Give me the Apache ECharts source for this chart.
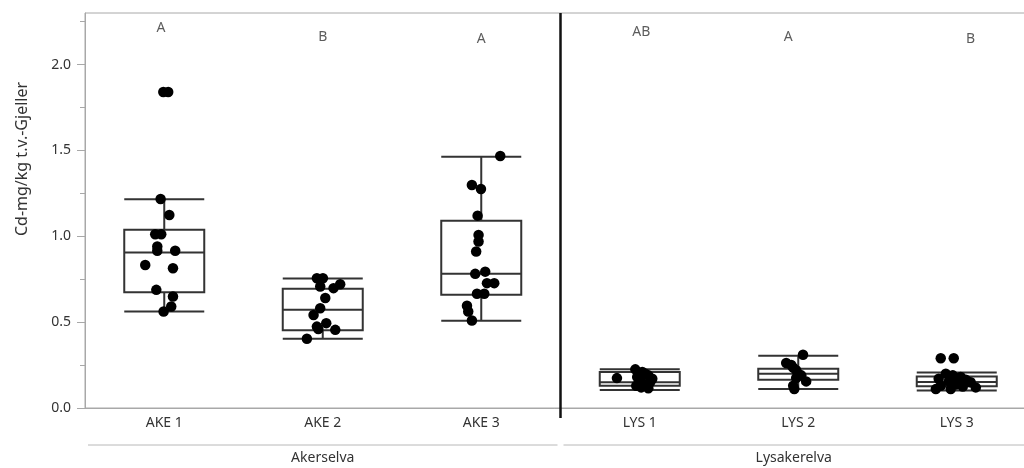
<!DOCTYPE html>
<html>
<head>
<meta charset="utf-8">
<script src="https://cdn.jsdelivr.net/npm/echarts@6/dist/echarts.min.js"></script>
<style>
html,body{margin:0;padding:0;background:#fff;}
#chart{width:1024px;height:468px;}
</style>
</head>
<body>
<div id="chart"></div>
<script>
// ---- data ----
const categories = ['AKE 1', 'AKE 2', 'AKE 3', 'LYS 1', 'LYS 2', 'LYS 3'];
const groups = ['Akerselva', 'Lysakerelva'];
const groupSpans = [[0, 2], [3, 5]];
const yAxisName = 'Cd-mg/kg t.v.-Gjeller';
const yTicks = [0, 0.5, 1.0, 1.5, 2.0];
const yMinorTicks = [0.25, 0.75, 1.25, 1.75, 2.25];

// [lower whisker, Q1, median, Q3, upper whisker]
const boxAKE1 = [0.562, 0.674, 0.905, 1.038, 1.215];
const boxAKE2 = [0.403, 0.453, 0.572, 0.694, 0.754];
const boxAKE3 = [0.508, 0.659, 0.781, 1.091, 1.463];
const boxLYS1 = [0.105, 0.130, 0.150, 0.210, 0.225];
const boxLYS2 = [0.110, 0.165, 0.200, 0.228, 0.304];
const boxLYS3 = [0.102, 0.126, 0.151, 0.184, 0.207];

// individual measurements and their horizontal jitter (fraction of category width)
const valAKE1 = [1.84, 1.84, 1.217, 1.124, 1.012, 1.012, 0.94, 0.916, 0.916, 0.833, 0.814, 0.688, 0.649, 0.591, 0.562];
const jitAKE1 = [-0.006, 0.025, -0.023, 0.032, -0.057, -0.019, -0.044, -0.044, 0.069, -0.12, 0.055, -0.05, 0.055, 0.044, -0.004];
const valAKE2 = [0.756, 0.756, 0.721, 0.707, 0.698, 0.64, 0.581, 0.542, 0.494, 0.474, 0.455, 0.46, 0.403];
const jitAKE2 = [-0.037, 0.001, 0.11, -0.016, 0.068, 0.016, -0.016, -0.058, 0.022, -0.037, 0.079, -0.028, -0.1];
const valAKE3 = [1.467, 1.298, 1.275, 1.12, 1.008, 0.969, 0.911, 0.781, 0.794, 0.727, 0.727, 0.665, 0.665, 0.595, 0.562, 0.509];
const jitAKE3 = [0.12, -0.059, -0.002, -0.023, -0.017, -0.017, -0.032, -0.038, 0.025, 0.036, 0.082, -0.027, 0.019, -0.09, -0.082, -0.059];
const valLYS1 = [0.174, 0.225, 0.21, 0.2, 0.19, 0.18, 0.17, 0.16, 0.15, 0.14, 0.13, 0.12, 0.115];
const jitLYS1 = [-0.144, -0.028, 0.016, 0.035, 0.054, -0.016, 0.079, 0.003, 0.066, 0.028, -0.022, 0.009, 0.054];
const valLYS2 = [0.31, 0.262, 0.25, 0.235, 0.22, 0.2, 0.19, 0.175, 0.155, 0.13, 0.11];
const jitLYS2 = [0.03, -0.076, -0.044, -0.032, -0.013, 0, 0.019, -0.013, 0.05, -0.032, -0.025];
const valLYS3 = [0.29, 0.29, 0.2, 0.19, 0.18, 0.17, 0.165, 0.155, 0.15, 0.14, 0.13, 0.125, 0.12, 0.11, 0.11];
const jitLYS3 = [-0.101, -0.019, -0.069, -0.025, 0.025, -0.114, 0.057, -0.05, 0.088, -0.006, -0.101, 0.038, 0.12, -0.038, -0.132];

// significance letters
const letters = ['A', 'B', 'A', 'AB', 'A', 'B'];
const letterY = [2.21, 2.16, 2.15, 2.19, 2.16, 2.15];
const letterShift = [-0.02, 0, 0, 0.01, -0.063, 0.087];

// ---- build ----
const boxData = [boxAKE1, boxAKE2, boxAKE3, boxLYS1, boxLYS2, boxLYS3];
const vals = [valAKE1, valAKE2, valAKE3, valLYS1, valLYS2, valLYS3];
const jits = [jitAKE1, jitAKE2, jitAKE3, jitLYS1, jitLYS2, jitLYS3];
const pointData = [];
vals.forEach((arr, i) => arr.forEach((v, k) => pointData.push([i + jits[i][k], v])));
const letterData = letters.map((t, i) => ({ value: [i + letterShift[i], letterY[i]], name: t }));

const FONT = 'Noto Sans';
const TXT = '#333';
const AXC = '#a8a8a8';

const chart = echarts.init(document.getElementById('chart'), null, { renderer: 'canvas' });
const option = {
  animation: false,
  backgroundColor: '#fff',
  textStyle: { fontFamily: FONT },
  grid: { left: 85, top: 13, width: 951, height: 395, show: true, borderColor: AXC, borderWidth: 1,
    backgroundColor: 'transparent', containLabel: false, outerBoundsMode: 'none' },
  xAxis: [
    {
      type: 'category', data: categories, boundaryGap: true,
      axisLine: { lineStyle: { color: AXC, width: 1 } },
      axisTick: { show: false },
      axisLabel: { color: TXT, fontSize: 14, margin: 8, fontFamily: FONT },
      splitLine: { show: false }
    },
    { type: 'value', min: -0.5, max: 5.5, show: false, splitLine: { show: false } }
  ],
  yAxis: [
    {
      type: 'value', min: 0, max: 2.3,
      axisLine: { show: true, onZero: false, lineStyle: { color: AXC, width: 1 } },
      axisTick: { show: true, length: 8, customValues: yTicks, lineStyle: { color: AXC } },
      axisLabel: { color: TXT, fontSize: 14, margin: 14, customValues: yTicks, fontFamily: FONT,
        formatter: v => v.toFixed(1) },
      splitLine: { show: false }
    },
    {
      type: 'value', min: 0, max: 2.3, position: 'left',
      axisLine: { show: false, onZero: false },
      axisTick: { show: true, length: 5, customValues: yMinorTicks, lineStyle: { color: AXC } },
      axisLabel: { show: false },
      splitLine: { show: false }
    }
  ],
  series: [
    {
      type: 'boxplot', xAxisIndex: 0, yAxisIndex: 0,
      data: boxData, boxWidth: [80, 80],
      itemStyle: { color: 'rgba(255,255,255,0)', borderColor: '#333', borderWidth: 2 },
      emphasis: { disabled: true }
    },
    {
      type: 'scatter', xAxisIndex: 1, yAxisIndex: 0,
      data: pointData, symbolSize: 10.5,
      itemStyle: { color: '#000', opacity: 1 },
      z: 5
    },
    {
      type: 'scatter', xAxisIndex: 1, yAxisIndex: 0,
      data: letterData, symbolSize: 0,
      label: { show: true, position: 'inside', formatter: p => p.name, color: TXT, fontSize: 14, fontFamily: FONT },
      z: 6
    }
  ]
};
chart.setOption(option);

// structural decorations positioned through the axes
const sepX = chart.convertToPixel({ xAxisIndex: 1 }, 2.5);
const yTop = chart.convertToPixel({ yAxisIndex: 0 }, 2.3);
const yZero = chart.convertToPixel({ yAxisIndex: 0 }, 0);
const graphics = [
  { type: 'line', shape: { x1: sepX, y1: yTop, x2: sepX, y2: yZero + 10 }, style: { stroke: '#111', lineWidth: 2.5 }, z: 10 },
  { type: 'text', x: 22, y: 159, rotation: Math.PI / 2,
    style: { text: yAxisName, fill: TXT, font: '16px "' + FONT + '"', textAlign: 'center', textVerticalAlign: 'middle' } }
];
const bracketY = yZero + 37;
groupSpans.forEach((span, g) => {
  let x1 = chart.convertToPixel({ xAxisIndex: 1 }, span[0] - 0.5) + 3;
  let x2 = chart.convertToPixel({ xAxisIndex: 1 }, span[1] + 0.5) - 3;
  if (g === 1) x2 = Math.min(x2, 1024);
  graphics.push({ type: 'line', shape: { x1: x1, y1: bracketY, x2: x2, y2: bracketY }, style: { stroke: '#b8b8b8', lineWidth: 1 } });
  graphics.push({ type: 'text', x: (x1 + x2) / 2, y: bracketY + 13,
    style: { text: groups[g], fill: TXT, font: '14px "' + FONT + '"', textAlign: 'center', textVerticalAlign: 'middle' } });
});
chart.setOption({ graphic: graphics });
</script>
</body>
</html>
